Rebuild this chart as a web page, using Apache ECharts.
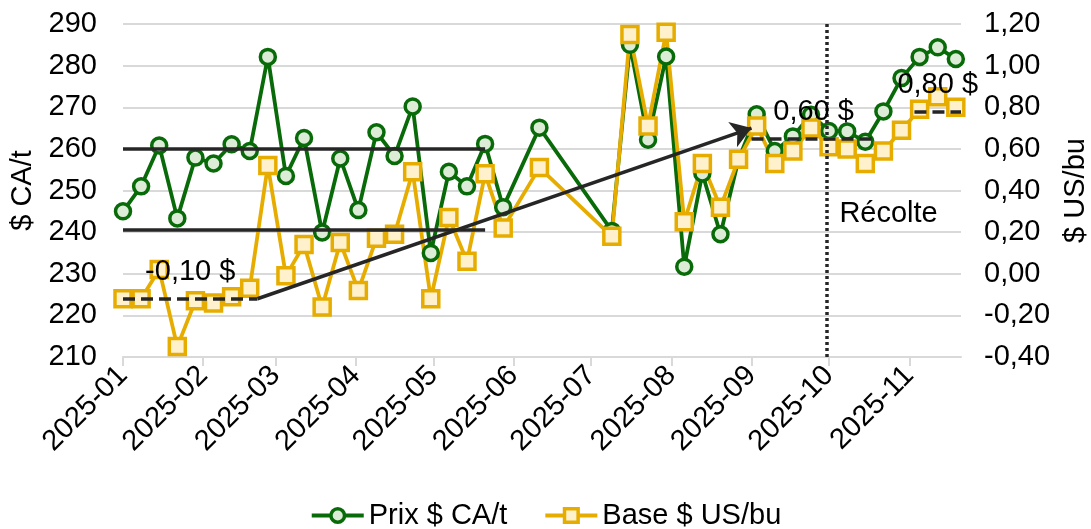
<!DOCTYPE html>
<html>
<head>
<meta charset="utf-8">
<script src="https://cdn.jsdelivr.net/npm/echarts@6/dist/echarts.min.js"></script>
<style>
  html, body { margin: 0; padding: 0; background: #fff; }
  #chart { width: 1091px; height: 529px; }
</style>
</head>
<body>
<div id="chart"></div>
<script>
// weekly observations
const dates = [
  '2025-01-01', '2025-01-08', '2025-01-15', '2025-01-22', '2025-01-29',
  '2025-02-05', '2025-02-12', '2025-02-19', '2025-02-26',
  '2025-03-05', '2025-03-12', '2025-03-19', '2025-03-26',
  '2025-04-02', '2025-04-09', '2025-04-16', '2025-04-23', '2025-04-30',
  '2025-05-07', '2025-05-14', '2025-05-21', '2025-05-28',
  '2025-06-11',
  '2025-07-09', '2025-07-16', '2025-07-23', '2025-07-30',
  '2025-08-06', '2025-08-13', '2025-08-20', '2025-08-27',
  '2025-09-03', '2025-09-10', '2025-09-17', '2025-09-24',
  '2025-10-01', '2025-10-08', '2025-10-15', '2025-10-22', '2025-10-29',
  '2025-11-05', '2025-11-12', '2025-11-19'
];
const prix = [
  245, 251, 260.8, 243.3, 257.9,
  256.5, 261.1, 259.5, 282.1,
  253.5, 262.6, 239.9, 257.7,
  245.3, 264.0, 258.3, 270.2, 235.0,
  254.5, 251.0, 261.2, 246.0,
  265.1,
  240.3, 285.0, 262.2, 282.2,
  231.7, 254.1, 239.5, 257.5,
  268.3, 259.5, 263.0, 268.2,
  264.3, 264.2, 261.7, 269.0, 277.0,
  282.1, 284.4, 281.6
];
const base = [
  -0.12, -0.12, 0.02, -0.35, -0.13,
  -0.14, -0.11, -0.07, 0.52,
  -0.01, 0.14, -0.16, 0.15,
  -0.08, 0.17, 0.19, 0.49, -0.12,
  0.27, 0.06, 0.48, 0.22,
  0.51,
  0.18, 1.15, 0.71, 1.16,
  0.25, 0.53, 0.32, 0.55,
  0.71, 0.53, 0.59, 0.70,
  0.61, 0.60, 0.53, 0.59, 0.69,
  0.79, 0.85, 0.80
];
const monthTicks = [
  '2025-01-01', '2025-02-01', '2025-03-01', '2025-04-01', '2025-05-01', '2025-06-01',
  '2025-07-01', '2025-08-01', '2025-09-01', '2025-10-01', '2025-11-01'
];
const xRange = ['2025-01-01', '2025-11-21'];
const prixTicks = [210, 290, 10];
const baseTicks = [-0.4, 1.2, 0.2];

// annotations: price range band, basis levels and trend arrow
const rangeHigh = 260;
const rangeLow = 240.5;
const rangeDates = ['2025-01-01', '2025-05-21'];
const basisStart = ['2025-01-01', '2025-02-22', -0.12, '-0,10 $'];
const basisMid = ['2025-09-01', '2025-10-19', 0.65, '0,60 $'];
const basisEnd = ['2025-11-03', '2025-11-21', 0.78, '0,80 $'];
const arrowTo = ['2025-09-01', 0.70];
const harvest = ['2025-09-30', 'Récolte', '2025-10-24', 244.3];

const ts = s => {
  const p = s.split('-').map(Number);
  return new Date(p[0], p[1] - 1, p[2]).getTime();
};

const GREEN = '#086a08';
const YELLOW = '#e6ad00';
const DARK = '#262626';
const FONT = 'Liberation Sans, Arial, sans-serif';
const FS = 29;

const comma = v => v.toFixed(2).replace('.', ',');

const levelLine = lv => [
  { coord: [ts(lv[0]), lv[2]], label: { show: true, formatter: lv[3] } },
  { coord: [ts(lv[1]), lv[2]] }
];

const chart = echarts.init(document.getElementById('chart'));
chart.setOption({
  animation: false,
  textStyle: { fontFamily: FONT },
  grid: { left: 123, right: 130, top: 24, bottom: 172, outerBoundsMode: 'none', containLabel: false },
  legend: {
    top: 496,
    left: 'center',
    itemWidth: 52,
    itemHeight: 17,
    itemGap: 36,
    lineStyle: { width: 4 },
    itemStyle: { borderWidth: 3.5 },
    textStyle: { fontSize: FS, color: '#000', fontFamily: FONT },
    data: ['Prix $ CA/t', 'Base $ US/bu']
  },
  xAxis: {
    type: 'value',
    min: ts(xRange[0]),
    max: ts(xRange[1]),
    axisLine: { show: true, onZero: false, lineStyle: { color: '#d9d9d9', width: 2 } },
    axisTick: {
      show: true, length: 9, lineStyle: { color: '#d9d9d9', width: 2 },
      customValues: monthTicks.map(ts)
    },
    splitLine: { show: false },
    axisLabel: {
      customValues: monthTicks.map(ts),
      rotate: 45,
      margin: 14,
      fontSize: FS,
      color: '#000',
      fontFamily: FONT,
      formatter: v => {
        const d = new Date(v);
        return d.getFullYear() + '-' + String(d.getMonth() + 1).padStart(2, '0');
      }
    }
  },
  yAxis: [{
    type: 'value',
    min: prixTicks[0], max: prixTicks[1], interval: prixTicks[2],
    name: '$ CA/t',
    nameLocation: 'middle',
    nameGap: 82,
    nameTextStyle: { fontSize: FS, color: '#000', fontFamily: FONT },
    axisLine: { show: false },
    axisTick: { show: false },
    splitLine: { lineStyle: { color: '#d9d9d9', width: 2 } },
    axisLabel: { fontSize: FS, color: '#000', margin: 26, fontFamily: FONT }
  }, {
    type: 'value',
    min: baseTicks[0], max: baseTicks[1], interval: baseTicks[2],
    name: '$ US/bu',
    nameLocation: 'middle',
    nameGap: 100,
    nameTextStyle: { fontSize: FS, color: '#000', fontFamily: FONT },
    axisLine: { show: false },
    axisTick: { show: false },
    splitLine: { show: false },
    axisLabel: { fontSize: FS, color: '#000', margin: 23, fontFamily: FONT, formatter: comma }
  }],
  series: [{
    name: 'Prix $ CA/t',
    type: 'line',
    yAxisIndex: 0,
    data: dates.map((d, i) => [ts(d), prix[i]]),
    symbol: 'circle',
    symbolSize: 15,
    color: GREEN,
    lineStyle: { color: GREEN, width: 3.8 },
    itemStyle: { color: '#dcecd6', borderColor: GREEN, borderWidth: 3.5 },
    markLine: {
      silent: true,
      symbol: ['none', 'none'],
      label: { show: false },
      lineStyle: { color: DARK, width: 3.5, type: 'solid' },
      data: [
        [{ coord: [ts(rangeDates[0]), rangeHigh] }, { coord: [ts(rangeDates[1]), rangeHigh] }],
        [{ coord: [ts(rangeDates[0]), rangeLow] }, { coord: [ts(rangeDates[1]), rangeLow] }],
        { xAxis: ts(harvest[0]), lineStyle: { type: [3, 3], width: 3.5 } }
      ]
    },
    markPoint: {
      silent: true,
      symbol: 'circle',
      symbolSize: 0,
      label: { show: true, position: 'inside', formatter: harvest[1], fontSize: FS, color: '#000', fontFamily: FONT },
      data: [{ coord: [ts(harvest[2]), harvest[3]] }]
    }
  }, {
    name: 'Base $ US/bu',
    type: 'line',
    yAxisIndex: 1,
    data: dates.map((d, i) => [ts(d), base[i]]),
    symbol: 'rect',
    symbolSize: 16,
    color: YELLOW,
    lineStyle: { color: YELLOW, width: 3.8 },
    itemStyle: { color: '#fff1cc', borderColor: YELLOW, borderWidth: 3.5 },
    markLine: {
      silent: true,
      symbol: ['none', 'none'],
      lineStyle: { color: DARK, width: 3.5, type: [12, 6] },
      label: {
        show: false, position: 'middle', distance: 12,
        fontSize: FS, color: '#000', fontFamily: FONT
      },
      data: [
        levelLine(basisStart),
        levelLine(basisMid),
        levelLine(basisEnd),
        [
          { coord: [ts(basisStart[1]), basisStart[2]], symbol: 'none', lineStyle: { type: 'solid' } },
          { coord: [ts(arrowTo[0]), arrowTo[1]], symbol: 'arrow', symbolSize: 20 }
        ]
      ]
    }
  }]
});
</script>
</body>
</html>
